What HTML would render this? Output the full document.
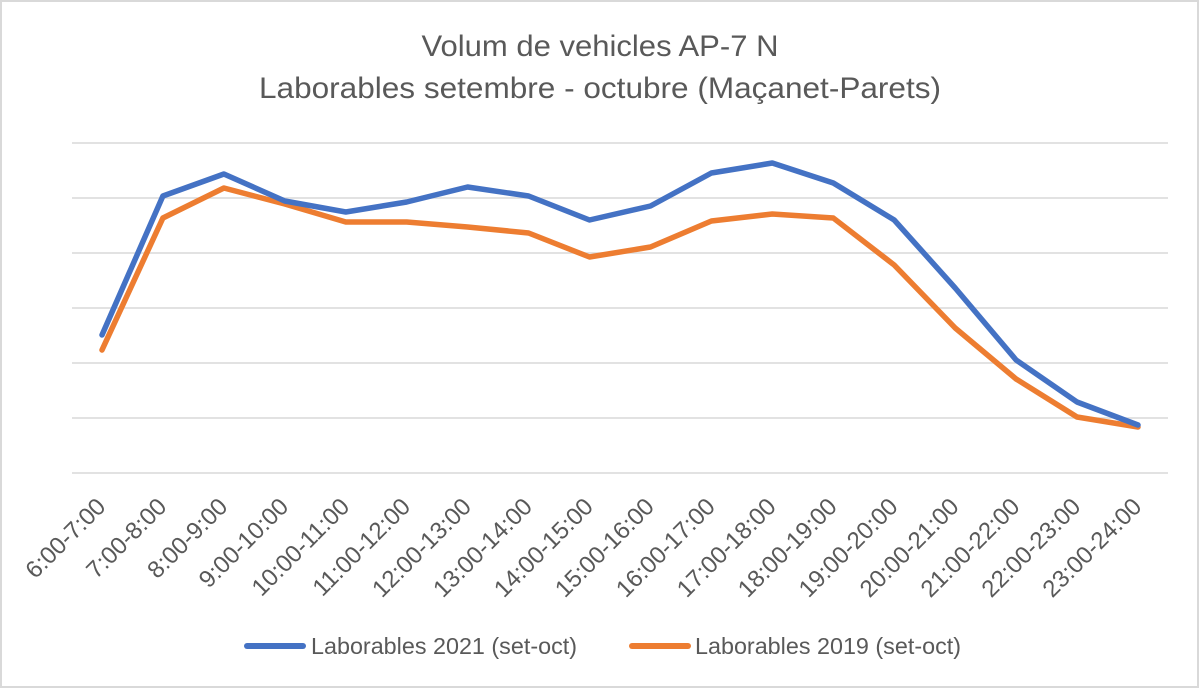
<!DOCTYPE html>
<html>
<head>
<meta charset="utf-8">
<style>
  html, body { margin: 0; padding: 0; background: #ffffff; }
  svg { display: block; }
  text { font-family: "Liberation Sans", "DejaVu Sans", sans-serif; fill: #595959; }
</style>
</head>
<body>
<svg width="1200" height="689" viewBox="0 0 1200 689" xmlns="http://www.w3.org/2000/svg">
  <rect x="0" y="0" width="1200" height="689" fill="#ffffff"/>
  <rect x="1" y="1" width="1197" height="686" fill="none" stroke="#d9d9d9" stroke-width="2"/>

  <!-- Title -->
  <text x="600" y="56" font-size="30" text-anchor="middle" textLength="357" lengthAdjust="spacingAndGlyphs">Volum de vehicles AP-7 N</text>
  <text x="600" y="98" font-size="30" text-anchor="middle" textLength="682" lengthAdjust="spacingAndGlyphs">Laborables setembre - octubre (Maçanet-Parets)</text>

  <!-- Gridlines -->
  <g stroke="#d9d9d9" stroke-width="1.5">
    <line x1="72" y1="143" x2="1168" y2="143"/>
    <line x1="72" y1="198" x2="1168" y2="198"/>
    <line x1="72" y1="253" x2="1168" y2="253"/>
    <line x1="72" y1="308" x2="1168" y2="308"/>
    <line x1="72" y1="363" x2="1168" y2="363"/>
    <line x1="72" y1="418" x2="1168" y2="418"/>
    <line x1="72" y1="473" x2="1168" y2="473"/>
  </g>

  <!-- Series -->
  <polyline fill="none" stroke="#ED7D31" stroke-width="5.5" stroke-linejoin="round" stroke-linecap="round"
    points="102,350 162.9,218 223.9,188 284.8,204 345.8,222 406.7,222 467.6,227 528.6,233 589.5,257 650.5,247 711.4,221 772.3,214 833.3,218 894.2,265 955.2,328 1016.1,379 1077,417 1138,427"/>
  <polyline fill="none" stroke="#4472C4" stroke-width="5.5" stroke-linejoin="round" stroke-linecap="round"
    points="102,335 162.9,196 223.9,174 284.8,201 345.8,212 406.7,202 467.6,187 528.6,196 589.5,220 650.5,206 711.4,173 772.3,163 833.3,183 894.2,220 955.2,288 1016.1,360 1077,402 1138,425"/>

  <!-- X axis labels -->
  <g font-size="24" text-anchor="end">
    <text transform="translate(107,508) rotate(-45)">6:00-7:00</text>
    <text transform="translate(167.9,508) rotate(-45)">7:00-8:00</text>
    <text transform="translate(228.9,508) rotate(-45)">8:00-9:00</text>
    <text transform="translate(289.8,508) rotate(-45)">9:00-10:00</text>
    <text transform="translate(350.8,508) rotate(-45)">10:00-11:00</text>
    <text transform="translate(411.7,508) rotate(-45)">11:00-12:00</text>
    <text transform="translate(472.6,508) rotate(-45)">12:00-13:00</text>
    <text transform="translate(533.6,508) rotate(-45)">13:00-14:00</text>
    <text transform="translate(594.5,508) rotate(-45)">14:00-15:00</text>
    <text transform="translate(655.5,508) rotate(-45)">15:00-16:00</text>
    <text transform="translate(716.4,508) rotate(-45)">16:00-17:00</text>
    <text transform="translate(777.3,508) rotate(-45)">17:00-18:00</text>
    <text transform="translate(838.3,508) rotate(-45)">18:00-19:00</text>
    <text transform="translate(899.2,508) rotate(-45)">19:00-20:00</text>
    <text transform="translate(960.2,508) rotate(-45)">20:00-21:00</text>
    <text transform="translate(1021.1,508) rotate(-45)">21:00-22:00</text>
    <text transform="translate(1082,508) rotate(-45)">22:00-23:00</text>
    <text transform="translate(1143,508) rotate(-45)">23:00-24:00</text>
  </g>

  <!-- Legend -->
  <line x1="247" y1="646" x2="303" y2="646" stroke="#4472C4" stroke-width="6" stroke-linecap="round"/>
  <text x="311" y="654" font-size="23.5" textLength="266" lengthAdjust="spacingAndGlyphs">Laborables 2021 (set-oct)</text>
  <line x1="632" y1="646" x2="688" y2="646" stroke="#ED7D31" stroke-width="6" stroke-linecap="round"/>
  <text x="695" y="654" font-size="23.5" textLength="266" lengthAdjust="spacingAndGlyphs">Laborables 2019 (set-oct)</text>
</svg>
</body>
</html>
